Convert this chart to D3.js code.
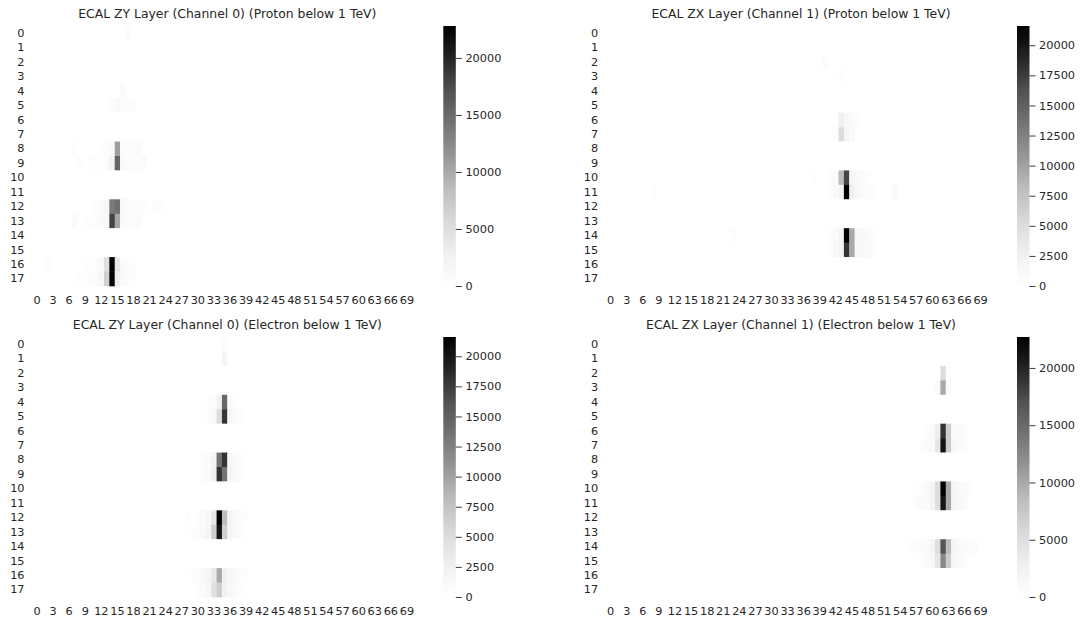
<!DOCTYPE html>
<html lang="en">
<head>
    <meta charset="UTF-8">
    <title>ECAL layers heatmaps</title>
    <script src="https://d3js.org/d3.v7.min.js"></script>
    <style>
        body { margin: 0; background: #fff; }
        svg { display: block; }
        text { font-family: "DejaVu Sans", sans-serif; fill: #262626; }
    </style>
</head>
<body>
    <div id="container"></div>

    <script>
        // Grid size of every layer image
        const nRows = 18;
        const nCols = 72;

        const titles = [
            "ECAL ZY Layer (Channel 0) (Proton below 1 TeV)",
            "ECAL ZX Layer (Channel 1) (Proton below 1 TeV)",
            "ECAL ZY Layer (Channel 0) (Electron below 1 TeV)",
            "ECAL ZX Layer (Channel 1) (Electron below 1 TeV)"
        ];

        // non-zero cells: [row, col, value]
        const protonZY = [
            [0, 17, 700],
            [4, 16, 700],
            [5, 14, 500], [5, 15, 1200], [5, 16, 700], [5, 17, 600], [5, 18, 400],
            [8, 7, 500], [8, 12, 300], [8, 13, 500], [8, 14, 900], [8, 15, 10700], [8, 16, 600], [8, 17, 500], [8, 18, 400], [8, 19, 700],
            [9, 8, 400], [9, 10, 300], [9, 11, 300], [9, 12, 400], [9, 13, 800], [9, 14, 2500], [9, 15, 15400], [9, 16, 900], [9, 17, 500], [9, 18, 400], [9, 19, 500], [9, 20, 700],
            [12, 11, 400], [12, 12, 800], [12, 13, 1500], [12, 14, 13700], [12, 15, 14600], [12, 16, 1000], [12, 17, 700], [12, 18, 600], [12, 19, 500], [12, 20, 400], [12, 22, 500], [12, 23, 400],
            [13, 7, 700], [13, 9, 300], [13, 10, 400], [13, 11, 500], [13, 12, 900], [13, 13, 1800], [13, 14, 18000], [13, 15, 10200], [13, 16, 1000], [13, 17, 600], [13, 18, 500], [13, 19, 700],
            [16, 2, 500], [16, 9, 300], [16, 10, 400], [16, 11, 600], [16, 12, 1200], [16, 13, 5000], [16, 14, 22800], [16, 15, 3900], [16, 16, 1000], [16, 17, 600], [16, 18, 400],
            [17, 8, 300], [17, 9, 400], [17, 10, 500], [17, 11, 700], [17, 12, 1500], [17, 13, 6500], [17, 14, 22500], [17, 15, 3000], [17, 16, 1000], [17, 17, 500], [17, 18, 400]
        ];

        const protonZX = [
            [2, 40, 700],
            [3, 43, 500],
            [6, 43, 2800], [6, 44, 1500], [6, 45, 800], [6, 46, 500],
            [7, 42, 500], [7, 43, 5000], [7, 44, 1800], [7, 45, 1000],
            [10, 38, 400], [10, 41, 500], [10, 42, 800], [10, 43, 8200], [10, 44, 17000], [10, 45, 1500], [10, 46, 1000], [10, 47, 700], [10, 48, 400],
            [11, 8, 600], [11, 41, 600], [11, 42, 1000], [11, 43, 2000], [11, 44, 21600], [11, 45, 2500], [11, 46, 1200], [11, 47, 900], [11, 48, 700], [11, 49, 500], [11, 53, 1200],
            [14, 23, 600], [14, 41, 500], [14, 42, 900], [14, 43, 1800], [14, 44, 21600], [14, 45, 9500], [14, 46, 1500], [14, 47, 1200], [14, 48, 900], [14, 49, 600],
            [15, 41, 600], [15, 42, 1000], [15, 43, 2000], [15, 44, 18000], [15, 45, 9500], [15, 46, 1500], [15, 47, 1200], [15, 48, 900], [15, 49, 700]
        ];

        const electronZY = [
            [0, 35, 500],
            [1, 35, 1800],
            [4, 32, 300], [4, 33, 500], [4, 34, 2500], [4, 35, 14500], [4, 36, 900], [4, 37, 400],
            [5, 31, 300], [5, 32, 600], [5, 33, 1200], [5, 34, 5000], [5, 35, 18000], [5, 36, 1500], [5, 37, 800], [5, 38, 400],
            [8, 31, 400], [8, 32, 700], [8, 33, 2000], [8, 34, 13500], [8, 35, 18000], [8, 36, 1500], [8, 37, 900], [8, 38, 500],
            [9, 31, 500], [9, 32, 900], [9, 33, 2500], [9, 34, 18000], [9, 35, 13500], [9, 36, 2000], [9, 37, 900], [9, 38, 500],
            [12, 28, 300], [12, 30, 400], [12, 31, 700], [12, 32, 1500], [12, 33, 4000], [12, 34, 21600], [12, 35, 8200], [12, 36, 2000], [12, 37, 1000], [12, 38, 600], [12, 39, 400],
            [13, 29, 300], [13, 30, 500], [13, 31, 900], [13, 32, 1800], [13, 33, 6500], [13, 34, 20000], [13, 35, 6500], [13, 36, 2000], [13, 37, 1000], [13, 38, 500],
            [16, 29, 400], [16, 30, 600], [16, 31, 1000], [16, 32, 1800], [16, 33, 3500], [16, 34, 9500], [16, 35, 2500], [16, 36, 1500], [16, 37, 900], [16, 38, 600], [16, 39, 400],
            [17, 30, 500], [17, 31, 800], [17, 32, 1500], [17, 33, 4500], [17, 34, 6700], [17, 35, 2500], [17, 36, 1200], [17, 37, 700], [17, 38, 400]
        ];

        const electronZX = [
            [2, 62, 5200], [2, 63, 600],
            [3, 61, 800], [3, 62, 10000], [3, 63, 1000],
            [6, 59, 400], [6, 60, 900], [6, 61, 2900], [6, 62, 19000], [6, 63, 7000], [6, 64, 1200], [6, 65, 900], [6, 66, 600],
            [7, 58, 400], [7, 59, 700], [7, 60, 1200], [7, 61, 3900], [7, 62, 21100], [7, 63, 7000], [7, 64, 1500], [7, 65, 1000], [7, 66, 700],
            [10, 57, 400], [10, 58, 600], [10, 59, 900], [10, 60, 1800], [10, 61, 5200], [10, 62, 22700], [10, 63, 10000], [10, 64, 1800], [10, 65, 1200], [10, 66, 900], [10, 67, 500],
            [11, 57, 500], [11, 58, 700], [11, 59, 1000], [11, 60, 2000], [11, 61, 5000], [11, 62, 21100], [11, 63, 10000], [11, 64, 1800], [11, 65, 1200], [11, 66, 900],
            [14, 56, 300], [14, 57, 500], [14, 58, 700], [14, 59, 1000], [14, 60, 1800], [14, 61, 5000], [14, 62, 16800], [14, 63, 8600], [14, 64, 1800], [14, 65, 1200], [14, 66, 900], [14, 67, 700], [14, 68, 500],
            [15, 58, 600], [15, 59, 900], [15, 60, 1500], [15, 61, 3900], [15, 62, 12400], [15, 63, 7000], [15, 64, 1500], [15, 65, 1000], [15, 66, 700]
        ];

        // colour-bar upper limits and tick labels
        const vmaxes = [22800, 21600, 21600, 22700];
        const cbTicks = [
            [0, 5000, 10000, 15000, 20000],
            [0, 2500, 5000, 7500, 10000, 12500, 15000, 17500, 20000],
            [0, 2500, 5000, 7500, 10000, 12500, 15000, 17500, 20000],
            [0, 5000, 10000, 15000, 20000]
        ];
        const xTickLabels = d3.range(0, nCols, 3);
        const yTickLabels = d3.range(0, nRows);

        // Greys colormap stops
        const greys = ["#ffffff", "#f0f0f0", "#d9d9d9", "#bdbdbd", "#969696", "#737373", "#525252", "#252525", "#000000"];

        // Layout: [left, top] of each heatmap
        const width = 1086;
        const height = 623;
        const mapW = 386;
        const mapH = 260;
        const cbGap = 23;
        const cbW = 12.5;
        const origins = [[34.3, 26], [608, 26], [34.3, 337], [608, 337]];

        const svg = d3.select("#container").append("svg")
            .attr("width", width)
            .attr("height", height);

        const grad = svg.append("defs").append("linearGradient")
            .attr("id", "greysGrad")
            .attr("x1", 0).attr("y1", 1).attr("x2", 0).attr("y2", 0);
        greys.forEach((c, i) => {
            grad.append("stop")
                .attr("offset", i / (greys.length - 1))
                .attr("stop-color", c);
        });

        const panelData = [protonZY, protonZX, electronZY, electronZX];

        panelData.forEach((cells, p) => {
            const [ox, oy] = origins[p];
            const vmax = vmaxes[p];

            // full matrix, zeros elsewhere
            const matrix = d3.range(nRows).map(() => new Array(nCols).fill(0));
            cells.forEach(([r, c, v]) => { matrix[r][c] = v; });
            const flat = [];
            matrix.forEach((row, r) => row.forEach((v, c) => flat.push({ r, c, v })));

            const x = d3.scaleBand().domain(d3.range(nCols)).range([0, mapW]);
            const y = d3.scaleBand().domain(d3.range(nRows)).range([0, mapH]);
            const color = d3.scaleLinear()
                .domain(greys.map((_, i) => vmax * i / (greys.length - 1)))
                .range(greys)
                .clamp(true);

            const g = svg.append("g").attr("transform", `translate(${ox},${oy})`);

            g.selectAll("rect.cell")
                .data(flat)
                .join("rect")
                .attr("class", "cell")
                .attr("x", d => x(d.c))
                .attr("y", d => y(d.r))
                .attr("width", x.bandwidth() + 0.3)
                .attr("height", y.bandwidth() + 0.3)
                .attr("fill", d => color(d.v));

            // x axis
            const xAxis = g.append("g")
                .attr("transform", `translate(0,${mapH})`)
                .call(d3.axisBottom(x).tickValues(xTickLabels).tickSize(0).tickPadding(9.8));
            xAxis.select(".domain").remove();
            xAxis.selectAll("text").style("font-size", "11.3px").attr("fill", "#262626");

            // y axis
            const yAxis = g.append("g")
                .call(d3.axisLeft(y).tickValues(yTickLabels).tickSize(0).tickPadding(9.8));
            yAxis.select(".domain").remove();
            yAxis.selectAll("text").style("font-size", "11.3px").attr("fill", "#262626");

            // title
            g.append("text")
                .attr("x", mapW / 2)
                .attr("y", -8)
                .attr("text-anchor", "middle")
                .style("font-size", "12.4px")
                .text(titles[p]);

            // colour bar
            const cbX = mapW + cbGap;
            g.append("rect")
                .attr("x", cbX)
                .attr("y", 0)
                .attr("width", cbW)
                .attr("height", mapH)
                .attr("fill", "url(#greysGrad)");

            const cbScale = d3.scaleLinear().domain([0, vmax]).range([mapH, 0]);
            const cbAxis = g.append("g")
                .attr("transform", `translate(${cbX + cbW},0)`)
                .call(d3.axisRight(cbScale).tickValues(cbTicks[p]).tickFormat(d3.format("d")).tickSize(6).tickPadding(3.6));
            cbAxis.select(".domain").remove();
            cbAxis.selectAll("line").attr("stroke", "#262626").attr("stroke-width", 0.9);
            cbAxis.selectAll("text").style("font-size", "11.3px").attr("fill", "#262626");
        });
    </script>
</body>
</html>
